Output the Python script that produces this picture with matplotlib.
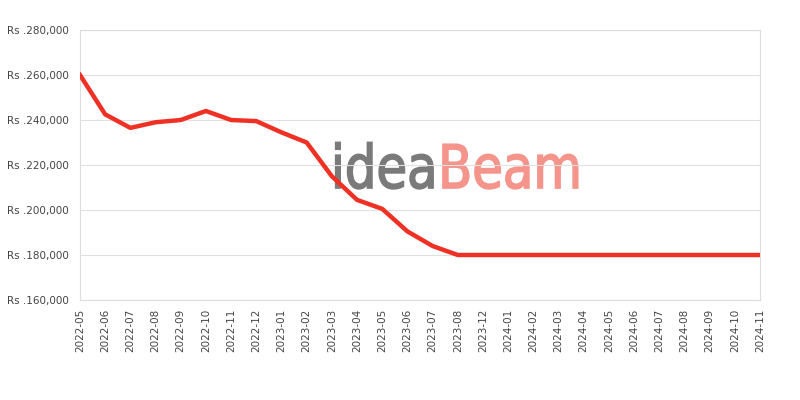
import matplotlib
matplotlib.use("Agg")
import matplotlib.pyplot as plt
from matplotlib.ticker import FuncFormatter
from matplotlib.textpath import TextPath
from matplotlib.patches import PathPatch
from matplotlib.transforms import Affine2D, IdentityTransform
from matplotlib.font_manager import FontProperties

# price history (Rs)
months = ["2022-05", "2022-06", "2022-07", "2022-08", "2022-09", "2022-10",
          "2022-11", "2022-12", "2023-01", "2023-02", "2023-03", "2023-04",
          "2023-05", "2023-06", "2023-07", "2023-08", "2023-12", "2024-01",
          "2024-02", "2024-03", "2024-04", "2024-05", "2024-06", "2024-07",
          "2024-08", "2024-09", "2024-10", "2024-11"]
prices = [260000, 242500, 236500, 239000, 240000, 244000,
          240000, 239500, 234500, 230000, 215000, 204500,
          200500, 190500, 184000, 180000, 180000, 180000,
          180000, 180000, 180000, 180000, 180000, 180000,
          180000, 180000, 180000, 180000]
y_ticks = [160000, 180000, 200000, 220000, 240000, 260000, 280000]

fig = plt.figure(figsize=(8, 4), dpi=100)
ax = fig.add_axes([0.1, 0.25, 0.85, 0.675])

x = list(range(len(months)))

# watermark, squeezed text paths in pixel coords
fp = FontProperties(family="DejaVu Sans")
xpos = 331
for word, col in [("idea", "#7a7a7a"), ("Beam", "#f4948b")]:
    tp = TextPath((0, 0), word, size=60, prop=fp)
    p = Affine2D().scale(0.83, 1).translate(xpos, 400 - 188).transform_path(tp)
    fig.add_artist(PathPatch(p, transform=IdentityTransform(), facecolor=col,
                             edgecolor=col, linewidth=1.2, zorder=0))
    xpos = p.get_extents().x1 + 5

ax.plot(x, prices, color="#ee3124", linewidth=3.2, solid_joinstyle="round", zorder=3)

ax.set_xlim(0, len(months) - 1)
ax.set_ylim(160000, 280000)
ax.set_xticks(x)
ax.set_xticklabels(months, rotation=90, fontsize=7.5, color="#444444")
ax.set_yticks(y_ticks)
ax.yaxis.set_major_formatter(FuncFormatter(lambda v, p: "Rs .{:,.0f}".format(v)))
ax.tick_params(axis="y", labelsize=7.5, labelcolor="#444444", length=0, pad=8)
ax.tick_params(axis="x", length=0, pad=6)
ax.grid(axis="y", color="#e0e0e0", linewidth=0.8)
ax.set_axisbelow(True)
ax.patch.set_alpha(0)
for s in ax.spines.values():
    s.set_color("#dddddd")
    s.set_linewidth(0.8)

fig.savefig("out.png", dpi=100)
